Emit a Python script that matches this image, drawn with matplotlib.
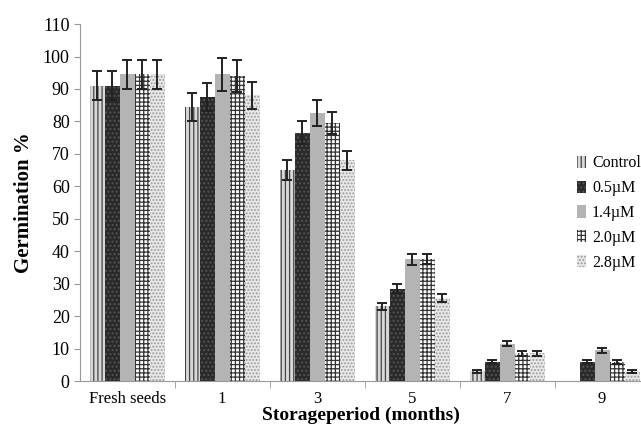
import numpy as np
import matplotlib
matplotlib.use("Agg")
import matplotlib.pyplot as plt

plt.rcParams['font.family'] = ['Liberation Serif', 'DejaVu Serif']
plt.rcParams['hatch.linewidth'] = 0.9

# data
periods = ["Fresh seeds", "1", "3", "5", "7", "9"]
treatments = ["Control", "0.5\u00b5M", "1.4\u00b5M", "2.0\u00b5M", "2.8\u00b5M"]
control = [91, 84.5, 65, 23, 3, 0]
uM05 = [91, 87.5, 76.5, 28.5, 6, 6]
uM14 = [94.5, 94.5, 82.5, 37.5, 11.5, 9.5]
uM20 = [94.5, 94, 79.5, 37.5, 8.5, 6]
uM28 = [94.5, 88, 68, 25.5, 8.5, 3]
err_control = [4.5, 4.3, 3, 1.2, 0.4, 0]
err_05 = [4.5, 4.3, 3.5, 1.5, 0.4, 0.4]
err_14 = [4.5, 5, 4, 1.8, 0.8, 0.8]
err_20 = [4.5, 5, 3.5, 1.5, 0.8, 0.6]
err_28 = [4.5, 4.3, 3, 1.2, 0.8, 0.4]

series = [control, uM05, uM14, uM20, uM28]
errors = [err_control, err_05, err_14, err_20, err_28]
faces = ["#d8d8d8", "#2a2a2a", "#b4b4b4", "white", "#e8e8e8"]
edges = ["#444444", "#555555", "#b4b4b4", "#333333", "#999999"]
hatches = ["||||", "....", None, "++++", "....."]

fig = plt.figure(figsize=(6.41, 4.38), dpi=100)
ax = fig.add_axes([0.125, 0.13, 0.875, 0.815])

x = np.arange(len(periods))
w = 0.158
for i, vals in enumerate(series):
    pos = x + (i - 2) * w
    ax.bar(pos, vals, w, color=faces[i], edgecolor=edges[i], hatch=hatches[i],
           linewidth=0, label=treatments[i])
    # no error bar where there is no germination
    e = np.array(errors[i])
    keep = e > 0
    ax.errorbar(pos[keep], np.array(vals)[keep], yerr=e[keep], fmt="none",
                ecolor="#222222", elinewidth=1.4, capsize=3.5, capthick=1.4)

ax.set_ylim(0, 110)
ax.set_yticks(np.arange(0, 111, 10))
ax.set_xlim(-0.495, 5.41)
ax.set_xticks(x)
ax.set_xticklabels(periods, fontsize=12)
ax.set_xticks(np.arange(0.5, 5.5, 1), minor=True)
ax.tick_params(axis="x", which="major", length=0, pad=7)
ax.tick_params(axis="x", which="minor", length=5, color="#999999")
ax.tick_params(axis="y", length=4, color="#999999", labelsize=13)

for s in ["top", "right"]:
    ax.spines[s].set_visible(False)
ax.spines["left"].set_color("#999999")
ax.spines["bottom"].set_color("#999999")

ax.set_ylabel("Germination %", fontsize=15, fontweight="bold", labelpad=6)
ax.set_xlabel("Storageperiod (months)", fontsize=14, fontweight="bold", labelpad=0)

ax.legend(loc="upper left", bbox_to_anchor=(0.9, 0.645), bbox_transform=fig.transFigure,
          frameon=False, fontsize=11.5, handlelength=0.55, handleheight=0.8,
          handletextpad=0.4, labelspacing=0.55, borderaxespad=0, borderpad=0)

fig.savefig("out.png", dpi=100)
